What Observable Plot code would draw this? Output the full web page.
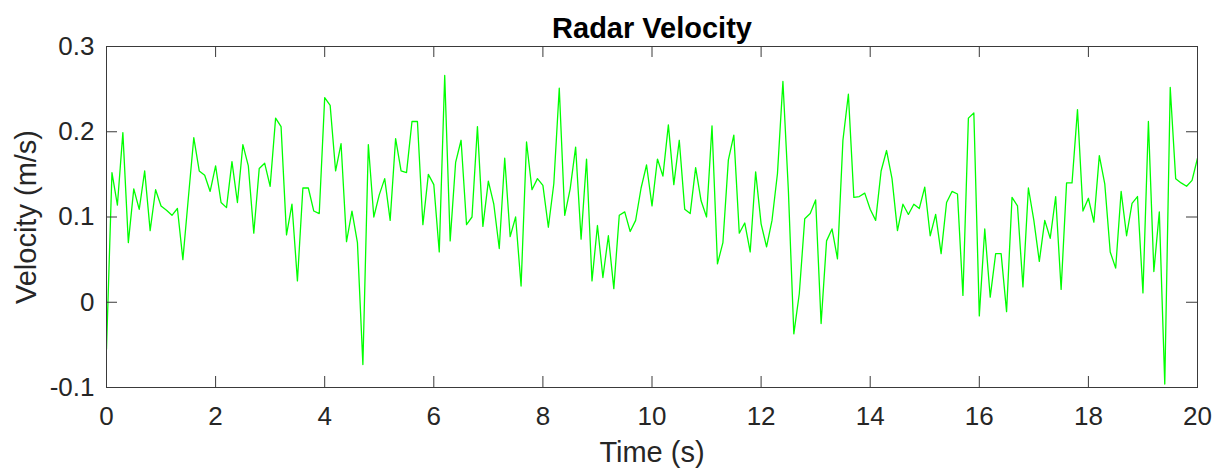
<!DOCTYPE html>
<html>
<head>
<meta charset="utf-8">
<script src="https://cdn.jsdelivr.net/npm/d3@7"></script>
<script src="https://cdn.jsdelivr.net/npm/@observablehq/plot@0.6"></script>
<style>
  html, body { margin: 0; padding: 0; background: #ffffff; }
</style>
</head>
<body>
<div id="chart"></div>
<script>
// Radar velocity samples, one every 0.1 s from 0 to 20 s (m/s)
const sampleInterval = 0.1;
const velocity = [
  -0.055, 0.152, 0.114, 0.199, 0.070, 0.133, 0.109, 0.154, 0.084, 0.132,
   0.113, 0.108, 0.102, 0.110, 0.050, 0.122, 0.193, 0.154, 0.149, 0.130,
   0.160, 0.117, 0.111, 0.165, 0.117, 0.185, 0.160, 0.081, 0.157, 0.163,
   0.136, 0.216, 0.206, 0.079, 0.115, 0.025, 0.134, 0.134, 0.107, 0.104,
   0.240, 0.231, 0.154, 0.186, 0.071, 0.107, 0.070, -0.073, 0.185, 0.100,
   0.126, 0.145, 0.096, 0.192, 0.154, 0.152, 0.212, 0.212, 0.091, 0.150,
   0.138, 0.059, 0.266, 0.072, 0.164, 0.190, 0.091, 0.100, 0.206, 0.089,
   0.142, 0.115, 0.063, 0.169, 0.077, 0.100, 0.019, 0.188, 0.132, 0.145,
   0.137, 0.088, 0.139, 0.251, 0.102, 0.133, 0.182, 0.074, 0.168, 0.025,
   0.090, 0.029, 0.078, 0.016, 0.102, 0.106, 0.083, 0.096, 0.134, 0.161,
   0.113, 0.168, 0.148, 0.208, 0.138, 0.190, 0.109, 0.104, 0.158, 0.119,
   0.100, 0.207, 0.045, 0.070, 0.167, 0.196, 0.081, 0.093, 0.059, 0.153,
   0.092, 0.065, 0.096, 0.151, 0.259, 0.131, -0.037, 0.010, 0.098, 0.104,
   0.120, -0.025, 0.072, 0.086, 0.051, 0.190, 0.244, 0.123, 0.124, 0.128,
   0.109, 0.096, 0.154, 0.178, 0.145, 0.084, 0.115, 0.103, 0.115, 0.110,
   0.135, 0.078, 0.103, 0.057, 0.117, 0.130, 0.127, 0.008, 0.216, 0.222,
  -0.016, 0.086, 0.006, 0.057, 0.057, -0.011, 0.123, 0.113, 0.018, 0.134,
   0.096, 0.048, 0.096, 0.075, 0.124, 0.015, 0.140, 0.140, 0.226, 0.107,
   0.122, 0.094, 0.172, 0.139, 0.059, 0.040, 0.130, 0.078, 0.116, 0.124,
   0.011, 0.212, 0.036, 0.106, -0.096, 0.252, 0.145, 0.140, 0.136, 0.143,
   0.169
];

// Axis ticks and their labels
const xTicks = [0, 2, 4, 6, 8, 10, 12, 14, 16, 18, 20];
const xTickLabels = ["0", "2", "4", "6", "8", "10", "12", "14", "16", "18", "20"];
const yTicks = [-0.1, 0, 0.1, 0.2, 0.3];
const yTickLabels = ["-0.1", "0", "0.1", "0.2", "0.3"];

const titleText = "Radar Velocity";
const xLabel = "Time (s)";
const yLabel = "Velocity (m/s)";

const samples = velocity.map((v, i) => ({ time: i * sampleInterval, velocity: v }));

const W = 1220, H = 471;
const mL = 106, mR = 23, mT = 46, mB = 84;
const frameW = W - mL - mR, frameH = H - mT - mB;
const tickLen = 11;
const ink = "#262626";
const boxInk = "#3a3a3a";
const font = "'Liberation Sans', Arial, Helvetica, sans-serif";

const chart = Plot.plot({
  width: W,
  height: H,
  marginLeft: mL,
  marginRight: mR,
  marginTop: mT,
  marginBottom: mB,
  style: { fontFamily: font, background: "#ffffff", color: ink, overflow: "visible" },
  x: { domain: [0, 20] },
  y: { domain: [-0.1, 0.3] },
  marks: [
    Plot.line(samples, { x: "time", y: "velocity", stroke: "#00ff00", strokeWidth: 1.3, clip: true }),
    Plot.frame({ stroke: boxInk, strokeWidth: 1 }),
    // inward ticks on all four sides of the box
    Plot.tickX(xTicks, { x: d => d, insetTop: frameH - tickLen, stroke: boxInk }),
    Plot.tickX(xTicks, { x: d => d, insetBottom: frameH - tickLen, stroke: boxInk }),
    Plot.tickY(yTicks, { y: d => d, insetRight: frameW - tickLen, stroke: boxInk }),
    Plot.tickY(yTicks, { y: d => d, insetLeft: frameW - tickLen, stroke: boxInk }),
    Plot.axisX(xTicks, {
      tickSize: 0, tickPadding: 19, fontSize: 26, label: null, fill: ink,
      tickFormat: (d) => xTickLabels[xTicks.indexOf(d)]
    }),
    Plot.axisY(yTicks, {
      tickSize: 0, tickPadding: 12, fontSize: 26, label: null, fill: ink,
      tickFormat: (d) => yTickLabels[yTicks.indexOf(d)]
    }),
    Plot.text([titleText], {
      frameAnchor: "top", text: d => d, textAnchor: "middle", lineAnchor: "bottom", dy: -9,
      fontSize: 29, fontWeight: "bold", fill: "#000000"
    }),
    Plot.text([xLabel], {
      frameAnchor: "bottom", text: d => d, textAnchor: "middle", lineAnchor: "bottom", dy: 74,
      fontSize: 29, fill: ink
    }),
    Plot.text([yLabel], {
      frameAnchor: "left", text: d => d, textAnchor: "middle", rotate: -90, lineAnchor: "middle", dx: -80,
      fontSize: 29, fill: ink
    })
  ]
});

document.getElementById("chart").appendChild(chart);
</script>
</body>
</html>
